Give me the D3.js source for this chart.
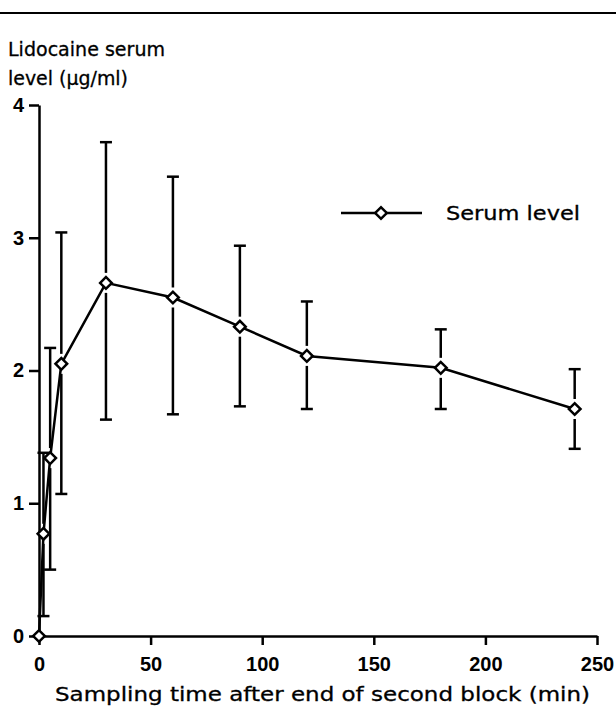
<!DOCTYPE html>
<html>
<head>
<meta charset="utf-8">
<script src="https://cdn.jsdelivr.net/npm/d3@7"></script>
<style>
  body { margin: 0; background: #fff; }
  svg { display: block; }
  .tick-label { font-family: "Liberation Sans", Arial, sans-serif; font-weight: bold; font-size: 20px; }
  .title { font-family: "DejaVu Sans", sans-serif; font-size: 19px; fill: #000; stroke: #000; stroke-width: 0.3; }
</style>
</head>
<body>
<svg width="616" height="722"></svg>
<script>
// sampling times (min) and mean serum level with error bar limits (µg/ml)
const times = [0, 2, 5, 10, 30, 60, 90, 120, 180, 240];
const means = [0, 0.77, 1.34, 2.05, 2.66, 2.55, 2.33, 2.11, 2.02, 1.71];
const upper = [null, 1.38, 2.17, 3.04, 3.72, 3.46, 2.94, 2.52, 2.31, 2.01];
const lower = [null, 0.15, 0.50, 1.07, 1.63, 1.67, 1.73, 1.71, 1.71, 1.41];
const xTicks = [0, 50, 100, 150, 200, 250];
const yTicks = [0, 1, 2, 3, 4];

const data = times.map((t, i) => ({ t: t, m: means[i], hi: upper[i], lo: lower[i] }));

const svg = d3.select("svg");
const x = d3.scaleLinear().domain([0, 250]).range([39, 597]);
const y = d3.scaleLinear().domain([0, 4]).range([636, 105]);

// top rule
svg.append("line")
    .attr("x1", 0).attr("x2", 616)
    .attr("y1", 13).attr("y2", 13)
    .attr("stroke", "#000").attr("stroke-width", 2);

// axes
const xAxis = svg.append("g")
    .attr("transform", `translate(0,${y(0)})`)
    .call(d3.axisBottom(x).tickValues(xTicks).tickSizeInner(9).tickSizeOuter(0).tickPadding(12).tickFormat(d3.format("d")));
const yAxis = svg.append("g")
    .attr("transform", `translate(${x(0)},0)`)
    .call(d3.axisLeft(y).tickValues(yTicks).tickSizeInner(10).tickSizeOuter(0).tickPadding(5).tickFormat(d3.format("d")));

[xAxis, yAxis].forEach(g => {
    g.select(".domain").attr("stroke", "#000").attr("stroke-width", 2.5);
    g.selectAll(".tick line").attr("stroke", "#000").attr("stroke-width", 2.5);
    g.selectAll(".tick text").attr("class", "tick-label").attr("fill", "#000");
});

// error bars (with a small gap around each marker)
const gap = 10, cap = 6;
const bars = svg.append("g").attr("stroke", "#000").attr("stroke-width", 2.5);
data.filter(d => d.hi !== null).forEach(d => {
    const cx = x(d.t);
    bars.append("line").attr("x1", cx).attr("x2", cx).attr("y1", y(d.hi)).attr("y2", y(d.m) - gap);
    bars.append("line").attr("x1", cx).attr("x2", cx).attr("y1", y(d.m) + gap).attr("y2", y(d.lo));
    bars.append("line").attr("x1", cx - cap).attr("x2", cx + cap).attr("y1", y(d.hi)).attr("y2", y(d.hi));
    bars.append("line").attr("x1", cx - cap).attr("x2", cx + cap).attr("y1", y(d.lo)).attr("y2", y(d.lo));
});

// mean line
svg.append("path")
    .datum(data)
    .attr("fill", "none")
    .attr("stroke", "#000")
    .attr("stroke-width", 2.5)
    .attr("d", d3.line().x(d => x(d.t)).y(d => y(d.m)));

// diamond markers
const diamond = d3.symbol().type(d3.symbolSquare).size(68);
svg.append("g").selectAll("path")
    .data(data)
    .enter().append("path")
    .attr("d", diamond)
    .attr("transform", d => `translate(${x(d.t)},${y(d.m)}) rotate(45)`)
    .attr("fill", "#fff")
    .attr("stroke", "#000")
    .attr("stroke-width", 2.5);

// legend
svg.append("line")
    .attr("x1", 341).attr("x2", 422).attr("y1", 213).attr("y2", 213)
    .attr("stroke", "#000").attr("stroke-width", 2.5);
svg.append("path")
    .attr("d", diamond)
    .attr("transform", "translate(381,213) rotate(45)")
    .attr("fill", "#fff").attr("stroke", "#000").attr("stroke-width", 2.5);
svg.append("text").attr("class", "title")
    .attr("x", 446).attr("y", 220)
    .attr("textLength", 134).attr("lengthAdjust", "spacingAndGlyphs")
    .text("Serum level");

// axis titles
svg.append("text").attr("class", "title")
    .attr("x", 8).attr("y", 56)
    .attr("textLength", 157).attr("lengthAdjust", "spacingAndGlyphs")
    .text("Lidocaine serum");
svg.append("text").attr("class", "title")
    .attr("x", 8).attr("y", 85)
    .attr("textLength", 120).attr("lengthAdjust", "spacingAndGlyphs")
    .text("level (µg/ml)");
svg.append("text").attr("class", "title")
    .attr("x", 55).attr("y", 701)
    .attr("textLength", 535).attr("lengthAdjust", "spacingAndGlyphs")
    .text("Sampling time after end of second block (min)");
</script>
</body>
</html>
